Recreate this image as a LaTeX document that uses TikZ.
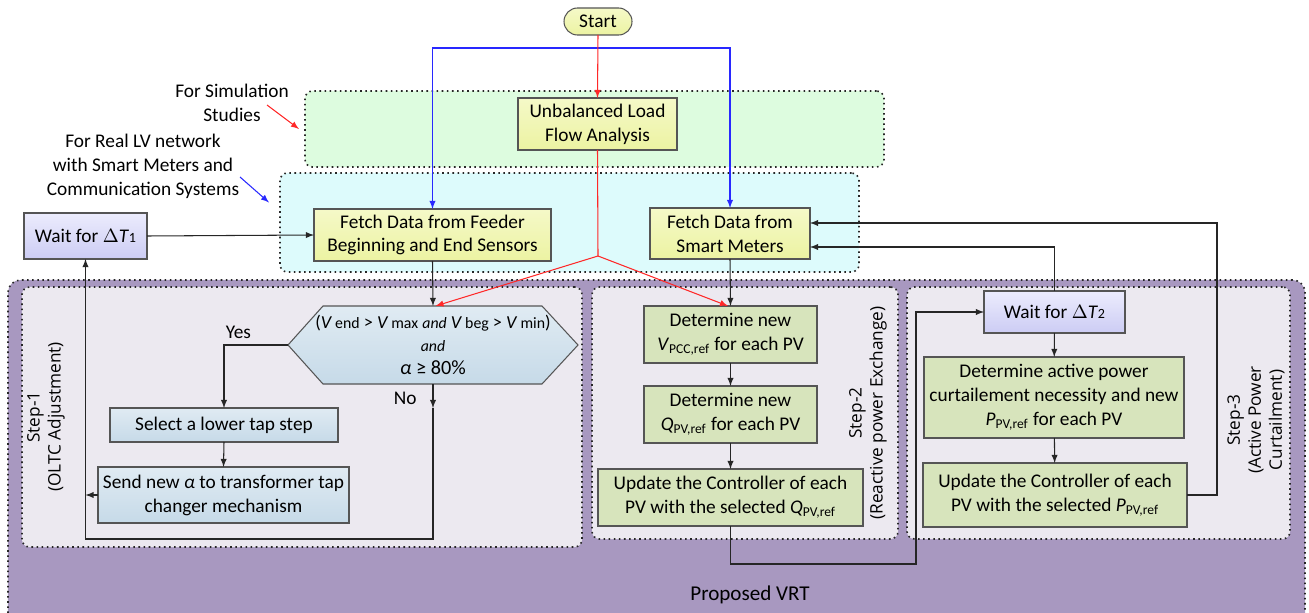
\documentclass[tikz,border=0pt]{standalone}
\usepackage{fontspec}
\setmainfont{Carlito}
\newfontfamily\stepfont{Open Sans}
\usetikzlibrary{arrows,calc}
\tikzset{>=latex}
\definecolor{simgreen}{RGB}{221,252,223}
\definecolor{realcyan}{RGB}{221,251,252}
\definecolor{vrtpurple}{RGB}{168,152,192}
\definecolor{steplilac}{RGB}{236,233,240}
\definecolor{boxgray}{RGB}{85,85,85}
\definecolor{detgreen}{RGB}{215,228,188}
\definecolor{redline}{RGB}{255,40,40}
\definecolor{blueline}{RGB}{40,40,255}
\tikzset{
  box/.style={draw=boxgray, line width=0.6pt, align=center, inner sep=1pt, outer sep=0pt},
  fetchbox/.style={box, top color={rgb,255:red,245;green,249;blue,200}, bottom color={rgb,255:red,236;green,243;blue,162}},
  tapbox/.style={box, top color={rgb,255:red,224;green,235;blue,243}, bottom color={rgb,255:red,198;green,218;blue,232}},
  waitbox/.style={box, top color={rgb,255:red,236;green,236;blue,253}, bottom color={rgb,255:red,204;green,204;blue,244}},
  detbox/.style={box, fill=detgreen},
  zone/.style={draw=black!85, dotted, line width=0.9pt, rounded corners=1.5mm, inner sep=0pt, outer sep=0pt},
  flow/.style={->, draw=black!85, line width=0.6pt},
  redflow/.style={->, draw=redline, line width=0.6pt},
  blueflow/.style={->, draw=blueline, line width=0.6pt},
  steplabel/.style={rotate=90, align=center, font=\stepfont\fontsize{9.8}{12}\selectfont}
}
\begin{document}
\begin{tikzpicture}[x=0.2mm, y=-0.2mm, font=\fontsize{11}{13.6}\selectfont]
  \useasboundingbox (0,0) rectangle (1309,613);

  \node[zone, fill=vrtpurple, minimum width=259.4mm, minimum height=70mm, rounded corners=2.5mm] (vrt) at (656.5,455) {};
  \node[zone, fill=steplilac, minimum width=112mm, minimum height=52mm] (step1) at (302,417) {};
  \node[zone, fill=steplilac, minimum width=61.2mm, minimum height=50.4mm] (step2) at (745,413) {};
  \node[zone, fill=steplilac, minimum width=76.6mm, minimum height=50.4mm] (step3) at (1098.5,413) {};
  \node[zone, fill=simgreen, minimum width=115.8mm, minimum height=15.2mm] (sim) at (594.5,129) {};
  \node[zone, fill=realcyan, minimum width=115.8mm, minimum height=19.8mm] (real) at (569.5,222.5) {};

  \node at (750,595) {\fontsize{12}{14}\selectfont Proposed VRT};
  \node[steplabel] at (46,417) {Step-1\\(OLTC Adjustment)};
  \node[steplabel] at (868,413) {Step-2\\(Reactive power Exchange)};
  \node[steplabel] at (1256,420) {Step-3\\(Active Power\\Curtailment)};

  \node[align=center] (simlab) at (232,103) {For Simulation\\Studies};
  \node[align=center] (reallab) at (143,166) {For Real LV network\\with Smart Meters and\\Communication Systems};
  \coordinate (simtail) at (267,105);
  \coordinate (realtail) at (240,177);
  \draw[redflow] (simtail) -- ([xshift=-1.2mm]sim.west);
  \draw[blueflow] (realtail) -- ([xshift=-2.2mm,yshift=4mm]real.west);

  \node[fetchbox, rounded corners=2.7mm, minimum width=13.6mm, minimum height=5.4mm] (start) at (598,21.5) {Start};
  \node[fetchbox, minimum width=31.8mm, minimum height=10.4mm] (unbal) at (597.5,124) {Unbalanced Load\\Flow Analysis};
  \node[fetchbox, minimum width=47.4mm, minimum height=10.4mm] (feeder) at (432.5,235) {Fetch Data from Feeder\\Beginning and End Sensors};
  \node[fetchbox, minimum width=32mm, minimum height=10.2mm] (smart) at (730,233.5) {Fetch Data from\\Smart Meters};
  \node[waitbox, minimum width=24.6mm, minimum height=9.2mm] (wait1) at (85.5,236) {Wait for \(\Delta\)\textit{T}{\footnotesize 1}};

  \path[draw=boxgray, line width=0.6pt, top color={rgb,255:red,224;green,235;blue,243}, bottom color={rgb,255:red,198;green,218;blue,232}]
    (288,345) -- (323,306) -- (542,306) -- (578,345) -- (542,384) -- (323,384) -- cycle;
  \node[align=center, inner sep=0pt, outer sep=0pt, minimum width=58mm, minimum height=15.6mm, font=\fontsize{10.4}{13.2}\selectfont] (cond) at (433,345)
    {(\textit{V}\,{\small end} > \textit{V}\,{\small max} {\small\textit{and}} \textit{V}\,{\small beg} > \textit{V}\,{\small min})\\
     {\small\textit{and}}\\ {\fontsize{11.5}{13}\selectfont\textit{α} ≥ 80\%}};
  \node[tapbox, minimum width=45.6mm, minimum height=6.8mm] (select) at (224,425) {Select a lower tap step};
  \node[tapbox, minimum width=50.2mm, minimum height=11.2mm] (send) at (223.5,495) {Send new \textit{α} to transformer tap\\changer mechanism};

  \node[detbox, minimum width=34.6mm, minimum height=11.4mm] (detV) at (730.5,334.5) {Determine new\\\textit{V}\textsubscript{PCC,ref} for each PV};
  \node[detbox, minimum width=34.6mm, minimum height=11.4mm] (detQ) at (730.5,414.5) {Determine new\\\textit{Q}\textsubscript{PV,ref} for each PV};
  \node[detbox, minimum width=53mm, minimum height=11.4mm] (updQ) at (730.5,497.5) {Update the Controller of each\\PV with the selected \textit{Q}\textsubscript{PV,ref}};

  \node[waitbox, minimum width=28.2mm, minimum height=8.4mm] (wait2) at (1054.5,312) {Wait for \(\Delta\)\textit{T}{\footnotesize 2}};
  \node[detbox, minimum width=52mm, minimum height=16.2mm] (detP) at (1054,397.5) {Determine active power\\curtailement necessity and new\\\textit{P}\textsubscript{PV,ref} for each PV};
  \node[detbox, minimum width=52.8mm, minimum height=12.8mm] (updP) at (1055,495) {Update the Controller of each\\PV with the selected \textit{P}\textsubscript{PV,ref}};

  \coordinate (bsplit) at (598,48);
  \coordinate (rsplit) at (598,256);
  \coordinate (noarrow) at (433,408);
  \coordinate (loopq) at (916,564);
  \coordinate (loop1) at (wait1.south |- 0,539);

  \draw[blueflow] (bsplit) -| (feeder.north);
  \draw[blueflow] (bsplit) -| (smart.north);
  \draw[redflow] (start.south) -- (unbal.north);
  \draw[redline, line width=0.6pt] (unbal.south) -- (rsplit);
  \draw[redflow] (rsplit) -- ([xshift=0.5mm]cond.north);
  \draw[redflow] (rsplit) -- ([xshift=-0.5mm]detV.north);

  \draw[flow] (wait1.east) -- (feeder.west);
  \draw[flow] (feeder.south) -- (cond.north);
  \draw[flow] (smart.south) -- (detV.north);
  \draw[flow] (cond.west) -| node[pos=0.2, above left, xshift=-1mm] {Yes} (select.north);
  \draw[flow] (select.south) -- (send.north);
  \draw[flow] (send.west) -- (send.west -| wait1.south);
  \draw[flow] (cond.south) -- node[left, xshift=-2mm, pos=0.6] {No} (noarrow);
  \draw[flow] (noarrow) |- (loop1) -- (wait1.south);

  \draw[flow] (detV) -- (detQ);
  \draw[flow] (detQ) -- (updQ);
  \draw[flow] (updQ.south) |- (loopq) |- (wait2.west);
  \draw[flow] (wait2) -- (detP);
  \draw[flow] (detP) -- (updP);
  \draw[flow] (updP.east) -- ++(30,0) |- ([yshift=2.1mm]smart.east);
  \draw[flow] (wait2.north) |- ([yshift=-2.7mm]smart.east);
\end{tikzpicture}
\end{document}
